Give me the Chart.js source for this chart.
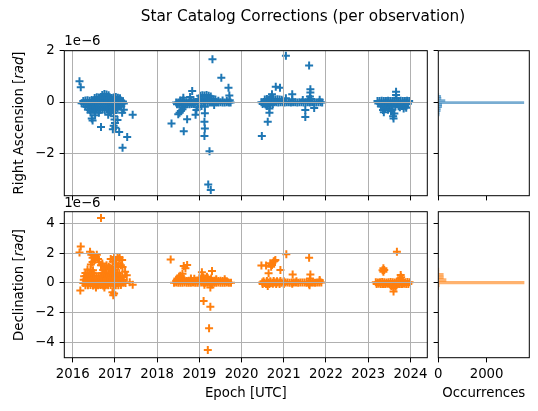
<!DOCTYPE html>
<html><head><meta charset="utf-8">
<script src="https://cdn.jsdelivr.net/npm/chart.js@4.4.1/dist/chart.umd.min.js"></script>
<style>
html,body{margin:0;padding:0;background:#fff;}
#fig{position:relative;width:538px;height:411px;overflow:hidden;font-family:"DejaVu Sans",sans-serif;color:#000;background:#fff;}
#fig canvas{position:absolute;left:0;top:0;}
.t{position:absolute;white-space:nowrap;line-height:1;font-size:13.3px;transform:translate(-50%,-50%);}
.v{transform:translate(-50%,-50%) rotate(-90deg);}
.o{position:absolute;white-space:nowrap;line-height:1;font-size:13.3px;transform:translateY(-50%);}
</style></head><body>
<div id="fig">
<canvas id="cRA" width="538" height="411"></canvas>
<canvas id="cDEC" width="538" height="411"></canvas>
<canvas id="hRA" width="538" height="411"></canvas>
<canvas id="hDEC" width="538" height="411"></canvas>
<div class="t" style="left:303px;top:17px;font-size:15.3px;">Star Catalog Corrections (per observation)</div>
<div class="t v" style="left:18.5px;top:123.2px;">Right Ascension [<i>rad</i>]</div>
<div class="t v" style="left:18.5px;top:284.7px;">Declination [<i>rad</i>]</div>
<div class="t" style="left:245.8px;top:393px;">Epoch [UTC]</div>
<div class="t" style="left:483.8px;top:393px;">Occurrences</div>
<div class="o" style="left:64.3px;top:41px;">1e&minus;6</div>
<div class="o" style="left:64.3px;top:202.5px;">1e&minus;6</div>
</div>
<script>
// ---------------- data (values in units of 1e-6 rad) ----------------
const epochTicks = [2016, 2017, 2018, 2019, 2020, 2021, 2022, 2023, 2024];
const raTicks = [-2, 0, 2];
const decTicks = [-4, -2, 0, 2, 4];
const countTicks = [0, 2000];

const raSeason2016 = [
[2016.70,0.27],[2016.75,0.31],[2016.80,0.29],[2016.85,0.26],
[2016.52,0.16],[2016.57,0.19],[2016.62,0.18],[2016.67,0.20],[2016.72,0.17],[2016.77,0.20],[2016.82,0.18],[2016.87,0.19],[2016.92,0.16],[2016.97,0.18],[2017.02,0.20],[2017.07,0.17],[2017.12,0.15],
[2016.25,0.04],[2016.30,0.06],[2016.35,0.07],[2016.40,0.05],[2016.45,0.08],[2016.50,0.06],[2016.55,0.07],[2016.60,0.05],[2016.65,0.08],[2016.70,0.06],[2016.75,0.07],[2016.80,0.05],[2016.85,0.08],[2016.90,0.06],[2016.95,0.07],[2017.00,0.05],[2017.05,0.08],[2017.10,0.06],[2017.15,0.05],[2017.19,0.02],
[2016.21,-0.05],[2016.26,-0.07],[2016.31,-0.06],[2016.36,-0.05],[2016.41,-0.07],[2016.46,-0.06],[2016.51,-0.05],[2016.56,-0.07],[2016.61,-0.06],[2016.66,-0.05],[2016.71,-0.07],[2016.76,-0.06],[2016.81,-0.05],[2016.86,-0.07],[2016.91,-0.06],[2016.96,-0.05],[2017.01,-0.07],[2017.06,-0.06],[2017.11,-0.05],[2017.16,-0.07],[2017.21,-0.06],
[2016.30,-0.17],[2016.35,-0.19],[2016.40,-0.18],[2016.45,-0.20],[2016.50,-0.17],[2016.55,-0.19],[2016.60,-0.18],[2016.65,-0.20],[2016.70,-0.17],[2016.75,-0.19],[2016.80,-0.18],[2016.85,-0.20],[2016.90,-0.17],[2016.95,-0.19],[2017.00,-0.18],[2017.05,-0.20],[2017.10,-0.17],[2017.15,-0.16],
[2016.36,-0.29],[2016.41,-0.31],[2016.46,-0.30],[2016.51,-0.32],[2016.56,-0.29],[2016.61,-0.31],[2016.66,-0.30],[2016.71,-0.28],[2016.76,-0.31],[2016.81,-0.29],[2016.86,-0.30],[2016.91,-0.32],[2016.96,-0.30],[2017.01,-0.28],[2017.06,-0.25],
[2016.42,-0.41],[2016.52,-0.40],[2016.62,-0.42],[2016.88,-0.40],[2016.97,-0.43],
[2016.98,-0.55],[2016.99,-0.68],[2017.00,-0.82],[2016.97,-0.92],[2017.01,-1.00],
[2016.16,0.81],[2016.19,0.58],[2016.45,-0.64],[2016.47,-0.72],[2016.67,-0.97],[2016.95,-1.06],[2017.10,-1.17],[2017.29,-1.36],[2017.18,-1.78],[2017.42,-0.50],[2017.21,-0.30],[2017.17,-0.42],[2016.53,-0.52],[2016.84,-0.50],[2017.06,-0.70]
];
const raSeason2018 = [
[2018.45,-0.02],[2018.50,-0.02],[2018.55,-0.01],[2018.60,-0.02],[2018.65,-0.03],[2018.70,-0.02],[2018.75,-0.01],[2018.80,-0.02],[2018.85,-0.02],[2018.90,-0.01],[2018.95,-0.02],[2019.00,-0.02],[2019.05,-0.01],[2019.10,-0.02],[2019.15,-0.02],[2019.20,-0.01],[2019.25,-0.02],[2019.30,-0.02],[2019.35,-0.01],[2019.40,-0.02],[2019.45,-0.02],[2019.50,-0.01],[2019.55,-0.02],[2019.60,-0.02],[2019.65,-0.01],[2019.70,-0.02],[2019.74,-0.02],
[2018.47,-0.09],[2018.52,-0.08],[2018.57,-0.09],[2018.62,-0.08],[2018.67,-0.09],[2018.72,-0.08],[2018.77,-0.09],[2018.82,-0.08],[2018.87,-0.08],
[2018.55,0.06],[2018.62,0.07],[2018.80,0.06],[2018.86,0.07],[2019.45,0.05],[2019.55,0.06],[2019.65,0.05],[2019.72,0.07],
[2018.98,0.12],[2019.03,0.13],[2019.08,0.12],[2019.13,0.14],[2019.18,0.12],[2019.23,0.13],[2019.28,0.12],[2019.33,0.11],[2019.38,0.10],
[2019.02,0.24],[2019.07,0.26],[2019.12,0.25],[2019.17,0.27],[2019.22,0.24],[2019.27,0.22],
[2018.62,0.17],[2018.83,0.43],[2018.78,0.20],[2019.71,0.25],[2019.69,0.56],[2019.52,0.95],[2019.31,1.67],
[2018.50,-0.48],[2018.53,-0.42],[2018.56,-0.35],[2018.60,-0.28],[2018.64,-0.20],[2018.91,-0.50],[2018.93,-0.31],[2018.96,-0.20],[2019.13,-0.18],[2019.13,-0.44],[2019.12,-0.77],[2019.13,-1.03],[2019.12,-1.32],[2019.24,-1.92],[2019.21,-3.21],[2019.27,-3.43],[2018.34,-0.84],[2018.63,-1.14],[2018.71,-0.67],[2019.05,-0.15],[2019.35,-0.12]
];
const raSeason2020 = [
[2020.47,-0.01],[2020.52,-0.01],[2020.57,-0.02],[2020.62,-0.01],[2020.67,-0.01],[2020.72,-0.02],[2020.77,-0.01],[2020.82,-0.01],[2020.87,-0.02],[2020.92,-0.01],[2020.97,-0.01],[2021.02,-0.02],[2021.07,-0.01],[2021.12,-0.01],[2021.17,-0.02],[2021.22,-0.01],[2021.27,-0.01],[2021.32,-0.02],[2021.37,-0.01],[2021.42,-0.01],[2021.47,-0.02],[2021.52,-0.01],[2021.57,-0.01],[2021.62,-0.02],[2021.67,-0.01],[2021.72,-0.01],[2021.77,-0.02],[2021.82,-0.01],[2021.87,-0.01],[2021.91,-0.02],
[2020.55,0.10],[2020.60,0.12],[2020.65,0.10],[2020.70,0.11],[2020.75,0.12],[2020.80,0.10],[2020.85,0.11],[2020.90,0.10],[2020.95,0.09],[2021.20,0.10],[2021.45,0.08],[2021.58,0.10],[2021.65,0.12],[2021.85,0.09],
[2020.50,-0.08],[2020.56,-0.09],[2020.62,-0.08],[2020.68,-0.09],[2020.74,-0.08],
[2021.05,1.80],[2021.60,1.42],[2020.81,0.60],[2020.91,0.56],[2021.20,0.30],[2021.63,0.50],[2021.63,0.37],[2021.62,0.22],[2020.72,0.30],[2020.66,-0.25],[2020.66,-0.42],[2020.62,-0.77],[2020.48,-1.32],[2021.51,-0.31],[2021.51,-0.58],[2021.72,-0.23],[2020.60,-0.15],[2020.68,0.18],[2021.05,0.15]
];
const raSeason2023 = [
[2023.22,0.04],[2023.27,0.04],[2023.32,0.05],[2023.37,0.04],[2023.42,0.04],[2023.47,0.05],[2023.52,0.04],[2023.57,0.04],[2023.62,0.05],[2023.67,0.04],[2023.72,0.04],[2023.77,0.05],[2023.82,0.04],[2023.87,0.04],[2023.92,0.05],[2023.97,0.04],
[2023.24,-0.06],[2023.29,-0.06],[2023.34,-0.07],[2023.39,-0.06],[2023.44,-0.06],[2023.49,-0.07],[2023.54,-0.06],[2023.59,-0.06],[2023.64,-0.07],[2023.69,-0.06],[2023.74,-0.06],[2023.79,-0.07],[2023.84,-0.06],[2023.89,-0.06],[2023.94,-0.07],
[2023.30,-0.16],[2023.36,-0.17],[2023.42,-0.15],[2023.50,-0.16],[2023.58,-0.17],[2023.64,-0.15],[2023.72,-0.16],[2023.80,-0.15],[2023.88,-0.16],
[2023.66,0.40],[2023.66,0.27],[2023.67,0.15],[2023.35,-0.31],[2023.37,-0.40],[2023.59,-0.55],[2023.60,-0.64],[2023.84,-0.25],[2023.54,-0.36],[2023.75,-0.20],[2023.40,-0.26],[2023.47,-0.30],[2023.90,-0.22],[2023.62,-0.45],[2023.57,-0.30]
];

const decSeason2016 = [
[2016.30,-0.15],[2016.36,-0.16],[2016.42,-0.14],[2016.48,-0.17],[2016.54,-0.15],[2016.60,-0.16],[2016.66,-0.14],[2016.72,-0.17],[2016.78,-0.15],[2016.84,-0.16],[2016.90,-0.14],[2016.96,-0.17],[2017.02,-0.15],[2017.08,-0.16],[2017.14,-0.14],
[2016.25,0.00],[2016.30,0.02],[2016.35,-0.01],[2016.40,0.01],[2016.45,0.00],[2016.50,0.02],[2016.55,-0.01],[2016.60,0.01],[2016.65,0.00],[2016.70,0.02],[2016.75,-0.01],[2016.80,0.01],[2016.85,0.00],[2016.90,0.02],[2016.95,-0.01],[2017.00,0.01],[2017.05,0.00],[2017.10,0.02],[2017.15,-0.01],[2017.20,0.01],[2017.25,0.00],
[2016.26,0.22],[2016.31,0.24],[2016.36,0.21],[2016.41,0.23],[2016.46,0.22],[2016.51,0.24],[2016.56,0.21],[2016.61,0.23],[2016.66,0.22],[2016.71,0.24],[2016.76,0.21],[2016.81,0.23],[2016.86,0.22],[2016.91,0.24],[2016.96,0.21],[2017.01,0.23],[2017.06,0.22],[2017.11,0.24],[2017.16,0.21],[2017.21,0.20],
[2016.27,0.45],[2016.32,0.47],[2016.37,0.44],[2016.42,0.46],[2016.47,0.45],[2016.52,0.47],[2016.57,0.44],[2016.62,0.46],[2016.67,0.45],[2016.72,0.47],[2016.77,0.44],[2016.82,0.46],[2016.87,0.45],[2016.92,0.47],[2016.97,0.44],[2017.02,0.46],[2017.07,0.45],[2017.12,0.43],[2017.17,0.40],
[2016.30,0.68],[2016.35,0.70],[2016.40,0.67],[2016.45,0.69],[2016.50,0.66],[2016.70,0.68],[2016.75,0.70],[2016.80,0.67],[2016.85,0.69],[2016.90,0.70],[2016.95,0.68],[2017.00,0.67],[2017.05,0.69],[2017.10,0.66],
[2016.35,0.90],[2016.42,0.88],[2016.48,0.86],[2016.72,0.88],[2016.78,0.90],[2016.86,0.92],[2016.92,0.95],[2016.97,0.90],[2016.88,1.05],[2016.94,1.08],
[2016.41,2.10],[2016.44,1.90],[2016.47,1.70],[2016.50,1.85],[2016.52,1.55],[2016.55,1.75],[2016.57,1.90],[2016.60,1.62],[2016.47,1.42],[2016.43,1.25],[2016.63,1.40],[2016.67,1.20],[2016.70,1.32],[2016.75,1.00],[2016.80,1.20],[2016.85,1.10],[2016.90,1.62],[2016.95,1.45],[2016.98,1.75],[2017.02,1.55],[2017.06,1.75],[2017.10,1.64],[2017.04,1.30],[2017.08,1.15],[2017.14,1.19],[2017.18,1.08],[2017.00,1.05],[2017.24,0.76],[2017.28,0.52],
[2016.67,4.38],[2016.19,2.46],[2016.16,2.06],[2016.18,-0.50],[2016.94,-0.62],[2016.96,-0.82],[2016.98,-0.70],[2017.42,-0.12],[2017.35,0.05],[2017.17,1.55],[2017.11,1.72],[2016.55,-0.30],[2016.75,-0.30]
];
const decSeason2018 = [
[2018.40,0.02],[2018.45,0.03],[2018.50,0.02],[2018.55,0.01],[2018.60,0.02],[2018.65,0.03],[2018.70,0.02],[2018.75,0.01],[2018.80,0.02],[2018.85,0.03],[2018.90,0.02],[2018.95,0.01],[2019.00,0.02],[2019.05,0.03],[2019.10,0.02],[2019.15,0.01],[2019.20,0.02],[2019.25,0.03],[2019.30,0.02],[2019.35,0.01],[2019.40,0.02],[2019.45,0.03],[2019.50,0.02],[2019.55,0.01],[2019.60,0.02],[2019.65,0.03],[2019.70,0.02],[2019.75,0.01],
[2018.45,0.15],[2018.50,0.16],[2018.55,0.14],[2018.60,0.15],[2018.65,0.16],[2018.70,0.14],[2018.75,0.15],[2018.80,0.16],[2018.85,0.14],[2018.90,0.15],[2018.95,0.16],[2019.00,0.14],[2019.05,0.15],[2019.10,0.16],[2019.15,0.14],[2019.20,0.15],[2019.25,0.16],[2019.30,0.14],[2019.35,0.15],[2019.40,0.16],[2019.45,0.14],[2019.50,0.15],[2019.55,0.13],[2019.60,0.14],[2019.65,0.12],
[2018.48,0.30],[2018.53,0.32],[2018.58,0.30],[2018.63,0.28],[2018.80,0.30],[2018.88,0.28],[2019.00,0.32],[2019.05,0.30],[2019.10,0.33],[2019.15,0.30],[2019.20,0.32],[2019.28,0.30],[2019.40,0.26],[2019.60,0.25],
[2018.55,0.48],[2018.52,0.42],[2019.08,0.45],[2019.18,0.42],
[2018.32,1.59],[2018.63,1.14],[2018.71,1.21],[2018.67,1.00],[2019.30,0.81],[2019.06,0.72],[2019.26,-0.31],[2019.10,-1.21],[2019.26,-1.60],[2019.23,-3.05],[2019.20,-4.51],[2019.12,-0.12],[2019.30,-0.10],[2018.60,0.62]
];
const decSeason2020 = [
[2020.49,0.03],[2020.54,0.02],[2020.59,0.03],[2020.64,0.04],[2020.69,0.03],[2020.74,0.02],[2020.79,0.03],[2020.84,0.04],[2020.89,0.03],[2020.94,0.02],[2020.99,0.03],[2021.04,0.04],[2021.09,0.03],[2021.14,0.02],[2021.19,0.03],[2021.24,0.04],[2021.29,0.03],[2021.34,0.02],[2021.39,0.03],[2021.44,0.04],[2021.49,0.03],[2021.54,0.02],[2021.59,0.03],[2021.64,0.04],[2021.69,0.03],[2021.74,0.02],[2021.79,0.03],[2021.84,0.04],[2021.89,0.03],
[2020.50,-0.06],[2020.58,-0.07],[2020.66,-0.06],[2020.74,-0.05],[2020.82,-0.06],[2020.90,-0.07],[2021.00,-0.06],[2021.20,-0.05],[2021.60,-0.06],
[2020.52,0.12],[2020.60,0.13],[2020.68,0.12],[2020.76,0.14],[2020.84,0.12],[2020.92,0.13],[2021.00,0.12],[2021.30,0.11],[2021.62,0.13],[2021.85,0.12],
[2021.06,1.93],[2021.60,1.70],[2020.47,1.17],[2020.58,1.17],[2020.68,1.33],[2020.76,1.44],[2020.80,1.55],[2020.72,1.21],[2020.78,1.48],[2020.70,1.10],[2020.64,0.65],[2020.92,0.88],[2021.21,0.58],[2021.63,0.58],[2021.62,0.30],[2021.85,0.20],[2020.62,-0.20],[2021.61,-0.15]
];
const decSeason2023 = [
[2023.18,0.05],[2023.23,0.04],[2023.28,0.05],[2023.33,0.06],[2023.38,0.05],[2023.43,0.04],[2023.48,0.05],[2023.53,0.06],[2023.58,0.05],[2023.63,0.04],[2023.68,0.05],[2023.73,0.06],[2023.78,0.05],[2023.83,0.04],[2023.88,0.05],[2023.93,0.06],[2023.98,0.05],
[2023.20,-0.06],[2023.25,-0.05],[2023.30,-0.06],[2023.35,-0.07],[2023.40,-0.06],[2023.45,-0.05],[2023.50,-0.06],[2023.55,-0.07],[2023.60,-0.06],[2023.65,-0.05],[2023.70,-0.06],[2023.75,-0.07],[2023.80,-0.06],[2023.85,-0.05],[2023.90,-0.06],[2023.95,-0.07],
[2023.68,2.11],[2023.36,0.99],[2023.36,0.76],[2023.38,0.88],[2023.34,0.85],[2023.77,0.54],[2023.78,0.38],[2023.75,0.30],[2023.60,-0.58],[2023.60,-0.36],[2023.55,-0.20],[2023.65,-0.25],[2023.80,0.20]
];

// histogram bins (centres in 1e-6 rad) and counts
const raHistCenters = [-0.50,-0.42,-0.34,-0.26,-0.18,-0.10,-0.02,0.06,0.14,0.22,0.30];
const raHistCounts  = [35,40,80,80,140,140,3540,275,110,100,20];
const decHistCenters = [-0.34,-0.16,0.02,0.20,0.38,0.56,0.74,0.92];
const decHistCounts  = [10,40,3550,320,210,205,25,15];

// ---------------- rendering ----------------
const epochMin = 2015.80, epochMax = 2024.40;
const raMin = -3.65, raMax = 2.0;
const decMin = -5.03, decMax = 4.80;
const countMax = 3768;

const BLUE = '#1f77b4', ORANGE = '#ff7f0e';
const FONT = {family: '"DejaVu Sans", sans-serif', size: 13.3};
const fmt = v => (v < 0 ? '\u2212' + Math.abs(v) : String(v));
const fixedTicks = list => s => { s.ticks = list.map(v => ({value: v})); };
const toXY = arr => arr.map(p => ({x: p[0], y: p[1]}));

const framePlugin = {
  id: 'frame',
  afterDraw(chart) {
    const {ctx, chartArea: a} = chart;
    ctx.save();
    ctx.strokeStyle = '#000';
    ctx.lineWidth = 1;
    ctx.strokeRect(a.left, a.top, a.right - a.left, a.bottom - a.top);
    ctx.restore();
  }
};

function gridOpts(onArea) {
  return {display: true, drawOnChartArea: onArea, offset: false, color: '#b0b0b0', lineWidth: 1, z: 1,
          drawTicks: true, tickLength: 4.7, tickColor: '#000', tickWidth: 1};
}

function scatterChart(id, seasons, color, yMin, yMax, yTicks, showX, pad) {
  const pts = [];
  seasons.forEach(s => pts.push(...toXY(s)));
  new Chart(document.getElementById(id), {
    type: 'scatter',
    data: {datasets: [{data: pts, pointStyle: 'cross', pointRadius: 4, pointHoverRadius: 4,
      pointBorderWidth: 2, borderColor: color, backgroundColor: color}]},
    options: {
      responsive: false, animation: false, events: [],
      layout: {padding: pad},
      plugins: {legend: {display: false}, tooltip: {enabled: false}},
      scales: {
        x: {type: 'linear', position: 'bottom', min: epochMin, max: epochMax, offset: false,
            afterBuildTicks: fixedTicks(epochTicks), afterFit: s => { s.height = 30; },
            grid: gridOpts(true), border: {display: false},
            ticks: {display: showX, font: FONT, color: '#000', padding: 4.5, maxRotation: 0, autoSkip: false,
                    callback: v => String(v)}},
        y: {type: 'linear', position: 'left', min: yMin, max: yMax, offset: false,
            afterBuildTicks: fixedTicks(yTicks), afterFit: s => { s.width = 60; },
            grid: gridOpts(true), border: {display: false},
            ticks: {font: FONT, color: '#000', padding: 5, autoSkip: false, callback: v => fmt(v)}}
      }
    },
    plugins: [framePlugin]
  });
}

function histChart(id, centers, counts, color, yMin, yMax, yTicks, showX, pad) {
  new Chart(document.getElementById(id), {
    type: 'bar',
    data: {datasets: [{data: centers.map((c, i) => ({x: counts[i], y: c})), backgroundColor: color,
      borderWidth: 0, barPercentage: 1, categoryPercentage: 1}]},
    options: {
      indexAxis: 'y', responsive: false, animation: false, events: [],
      layout: {padding: pad},
      plugins: {legend: {display: false}, tooltip: {enabled: false}},
      scales: {
        x: {type: 'linear', position: 'bottom', min: 0, max: countMax, offset: false,
            afterBuildTicks: fixedTicks(countTicks), afterFit: s => { s.height = 30; },
            grid: gridOpts(false), border: {display: false},
            ticks: {display: showX, font: FONT, color: '#000', padding: 4.5, maxRotation: 0, autoSkip: false,
                    callback: v => String(v)}},
        y: {type: 'linear', position: 'left', min: yMin, max: yMax, offset: false, reverse: false,
            afterBuildTicks: fixedTicks(yTicks), afterFit: s => { s.width = 10; },
            grid: gridOpts(false), border: {display: false},
            ticks: {display: false}}
      }
    },
    plugins: [framePlugin]
  });
}

scatterChart('cRA', [raSeason2016, raSeason2018, raSeason2020, raSeason2023], BLUE,
  raMin, raMax, raTicks, false, {left: 4.3, right: 110.7, top: 50.7, bottom: 185.3});
scatterChart('cDEC', [decSeason2016, decSeason2018, decSeason2020, decSeason2023], ORANGE,
  decMin, decMax, decTicks, true, {left: 4.3, right: 110.7, top: 211.7, bottom: 23.3});
histChart('hRA', raHistCenters, raHistCounts, 'rgba(31,119,180,0.6)',
  raMin, raMax, raTicks, false, {left: 428.3, right: 8.7, top: 50.7, bottom: 185.3});
histChart('hDEC', decHistCenters, decHistCounts, 'rgba(255,127,14,0.6)',
  decMin, decMax, decTicks, true, {left: 428.3, right: 8.7, top: 211.7, bottom: 23.3});
</script>
</body></html>
